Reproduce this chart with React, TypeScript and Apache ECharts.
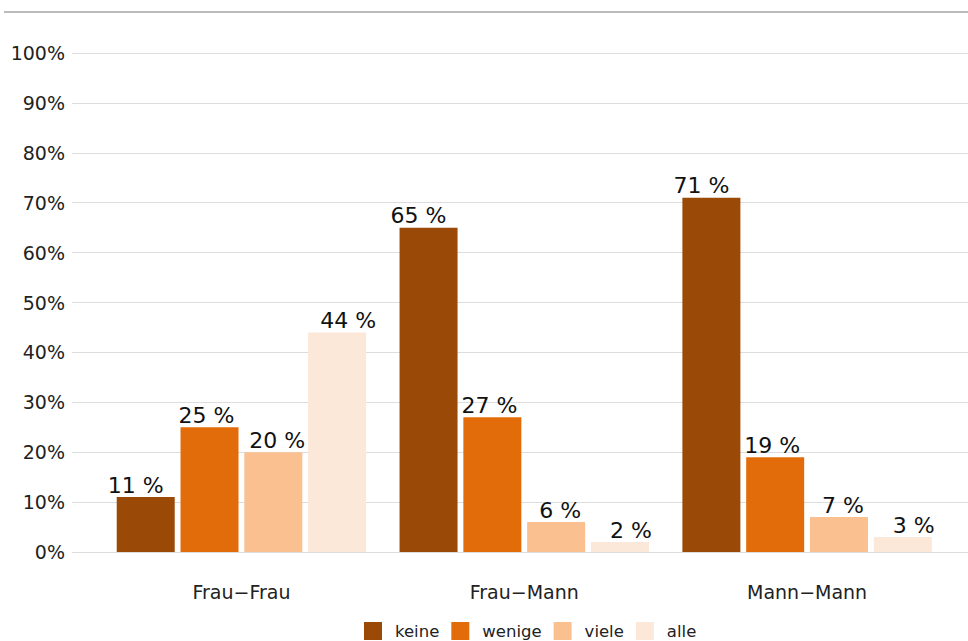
import React, { useEffect, useRef } from "react";
import * as echarts from "echarts";

const categories = ["Frau−Frau", "Frau−Mann", "Mann−Mann"];
const seriesNames = ["keine", "wenige", "viele", "alle"];
const keine = [11, 65, 71];
const wenige = [25, 27, 19];
const viele = [20, 6, 7];
const alle = [44, 2, 3];
const colors = ["#9a4a06", "#e36c0a", "#fac090", "#fce8d9"];
const yTicks = [0, 10, 20, 30, 40, 50, 60, 70, 80, 90, 100];

export default function App() {
  const ref = useRef<HTMLDivElement>(null);
  useEffect(() => {
    const chart = echarts.init(ref.current!, null, { renderer: "svg" });
    const values = [keine, wenige, viele, alle];
    const labelOffsets = [-10, -3, 4, 11];
    const font = "'DejaVu Sans', 'Liberation Sans', Arial, sans-serif";
    chart.setOption({
      animation: false,
      textStyle: { fontFamily: font },
      graphic: [
        {
          type: "line",
          shape: { x1: 4, y1: 12, x2: 968, y2: 12 },
          style: { stroke: "#bbbbbb", lineWidth: 2 },
        },
      ],
      legend: {
        left: 359,
        top: 617,
        itemWidth: 18,
        itemHeight: 18,
        itemGap: 12,
        icon: "rect",
        data: seriesNames,
        textStyle: { fontSize: 16.5, color: "#222", fontFamily: font, padding: [0, 0, 0, 8] },
      },
      grid: [
        { left: 72, right: 0, top: 53, bottom: 89 },
        { left: 100, right: 19.5, top: 53, bottom: 89 },
      ],
      xAxis: [
        { type: "category", gridIndex: 0, data: [""], show: false },
        {
          type: "category",
          gridIndex: 1,
          data: categories,
          axisLine: { show: false },
          axisTick: { show: false },
          axisLabel: { fontSize: 19, color: "#222", margin: 30, fontFamily: font },
        },
      ],
      yAxis: [
        {
          type: "value",
          gridIndex: 0,
          min: 0,
          max: 100,
          interval: 10,
          axisLine: { show: false },
          axisTick: { show: false },
          splitLine: { lineStyle: { color: "#dddddd", width: 1 } },
          axisLabel: {
            fontSize: 19,
            color: "#222",
            margin: 7,
            fontFamily: font,
            formatter: (v: number) => (yTicks.includes(v) ? v + "%" : ""),
          },
        },
        { type: "value", gridIndex: 1, min: 0, max: 100, interval: 10, show: false },
      ],
      series: seriesNames.map((name, i) => ({
        name,
        type: "bar",
        xAxisIndex: 1,
        yAxisIndex: 1,
        data: values[i],
        barWidth: 58,
        barGap: "10%",
        itemStyle: { color: colors[i] },
        label: {
          show: true,
          position: "top",
          distance: 1,
          offset: [labelOffsets[i], 0],
          fontSize: 22,
          color: "#111",
          fontFamily: font,
          formatter: "{c} %",
        },
      })),
    });
    return () => chart.dispose();
  }, []);
  return <div ref={ref} style={{ width: 968, height: 641, position: "absolute", left: 0, top: 0 }} />;
}
